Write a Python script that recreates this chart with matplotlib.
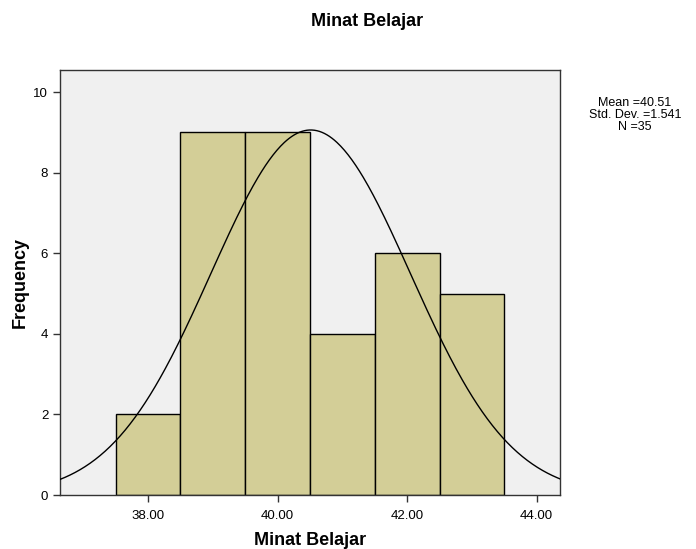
import numpy as np
import matplotlib
matplotlib.use("Agg")
import matplotlib.pyplot as plt

plt.rcParams['font.family'] = ['Liberation Sans', 'DejaVu Sans']

# histogram data (bin centers and counts)
bin_centers = [38, 39, 40, 41, 42, 43]
counts = [2, 9, 9, 4, 6, 5]
mean = 40.51
std = 1.541
n = 35
x_ticks = [38, 40, 42, 44]
y_ticks = [0, 2, 4, 6, 8, 10]

fig = plt.figure(figsize=(6.96, 5.49), dpi=100)
ax = fig.add_axes([60 / 696, 1 - 495 / 549, 500 / 696, 425 / 549])
ax.set_facecolor('#f0f0f0')

ax.bar(bin_centers, counts, width=1.0, color='#d3ce97', edgecolor='black', linewidth=1.0, zorder=2)

xs = np.linspace(36.64, 44.36, 400)
ys = n * 1.0 * np.exp(-0.5 * ((xs - mean) / std) ** 2) / (std * np.sqrt(2 * np.pi))
ax.plot(xs, ys, color='black', linewidth=1.0, zorder=3)

ax.set_xlim(36.64, 44.36)
ax.set_ylim(0, 10.55)
ax.set_xticks(x_ticks)
ax.set_xticklabels([f"{v:.2f}" for v in x_ticks], fontsize=9.5)
ax.set_yticks(y_ticks)
ax.set_yticklabels([str(v) for v in y_ticks], fontsize=9.5)
ax.tick_params(length=5, width=1, color='#333333')
ax.tick_params(axis='x', pad=6)

for s in ax.spines.values():
    s.set_color('#333333')
    s.set_linewidth(1)

ax.set_ylabel('Frequency', fontsize=13, fontweight='bold', labelpad=3)
ax.set_xlabel('Minat Belajar', fontsize=13, fontweight='bold', labelpad=7)

fig.text(367 / 696, 1 - 21 / 549, 'Minat Belajar', ha='center', va='center',
         fontsize=13, fontweight='bold')
fig.text(635 / 696, 1 - 115 / 549, f"Mean ={mean}\nStd. Dev. ={std}\nN ={n}",
         ha='center', va='center', fontsize=9, linespacing=0.95)

fig.savefig('out.png', dpi=100)
